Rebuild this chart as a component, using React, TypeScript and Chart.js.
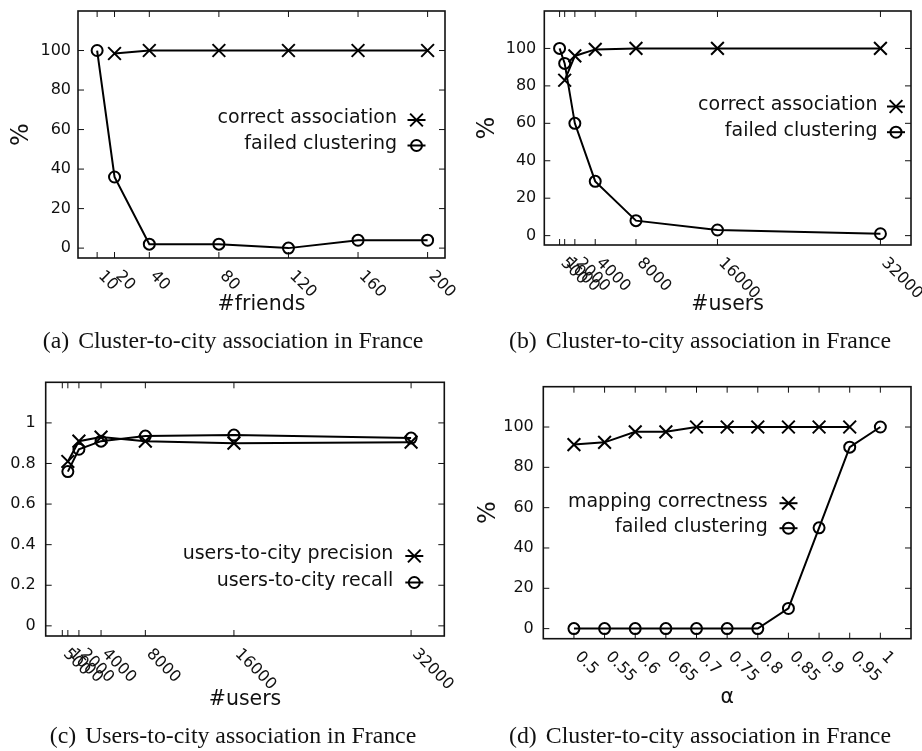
import { useEffect, useRef } from "react";
import { Chart, registerables } from "chart.js";

Chart.register(...registerables);

const PAGE_W = 922;
const PAGE_H = 751;
const SANS = '"DejaVu Sans", "Noto Sans", sans-serif';
const SERIF = '"Liberation Serif", "DejaVu Serif", serif';

// ---- (a) cluster-to-city vs #friends ----
const friendsX = [10, 20, 40, 80, 120, 160, 200];
const friendsTicks = [10, 20, 40, 80, 120, 160, 200];
const friendsCorrect = [null, 98.5, 100, 100, 100, 100, 100];
const friendsFailed = [100, 36, 2, 2, 0, 4, 4];

// ---- (b) cluster-to-city vs #users ----
const usersX = [500, 1000, 2000, 4000, 8000, 16000, 32000];
const usersTicks = [500, 1000, 2000, 4000, 8000, 16000, 32000];
const usersCorrect = [null, 83, 96, 99.5, 100, 100, 100];
const usersFailed = [100, 92, 60, 29, 8, 3, 1];

// ---- (c) users-to-city vs #users ----
const usersPrecision = [null, 0.81, 0.91, 0.93, 0.91, 0.9, 0.905];
const usersRecall = [null, 0.76, 0.87, 0.91, 0.935, 0.94, 0.925];

// ---- (d) cluster-to-city vs alpha ----
const alphaX = [0.5, 0.55, 0.6, 0.65, 0.7, 0.75, 0.8, 0.85, 0.9, 0.95, 1];
const alphaTickLabels = ["0.5", "0.55", "0.6", "0.65", "0.7", "0.75", "0.8", "0.85", "0.9", "0.95", "1"];
const alphaCorrect = [91.3, 92.4, 97.6, 97.6, 100, 100, 100, 100, 100, 100, null];
const alphaFailed = [0, 0, 0, 0, 0, 0, 0, 10, 50, 90, 100];

const percentTicks = [0, 20, 40, 60, 80, 100];
const percentTickLabels = ["0", "20", "40", "60", "80", "100"];
const ratioTicks = [0, 0.2, 0.4, 0.6, 0.8, 1];
const ratioTickLabels = ["0", "0.2", "0.4", "0.6", "0.8", "1"];

type Series = { label: string; values: (number | null)[]; marker: "cross" | "circle" };
type Panel = {
  id: string;
  box: { left: number; top: number; right: number; bottom: number };
  xRange: [number, number];
  yRange: [number, number];
  xs: number[];
  xTicks: number[];
  xTickLabels: string[];
  yTicks: number[];
  yTickLabels: string[];
  yLabelGap: number;
  xTitle: string;
  xTitleBaseline: number;
  yTitle: string | null;
  yTitleX: number;
  series: Series[];
  key: { textRight: number; markerX: number; rows: number[] };
  caption: { tag: string; text: string; cx: number; cy: number };
};

const panels: Panel[] = [
  {
    id: "a",
    box: { left: 78, top: 7, right: 445, bottom: 258 },
    xRange: [-1, 210],
    yRange: [-5, 120],
    xs: friendsX,
    xTicks: friendsTicks,
    xTickLabels: friendsTicks.map(String),
    yTicks: percentTicks,
    yTickLabels: percentTickLabels,
    yLabelGap: 7,
    xTitle: "#friends",
    xTitleBaseline: 310,
    yTitle: "%",
    yTitleX: 22,
    series: [
      { label: "correct association", values: friendsCorrect, marker: "cross" },
      { label: "failed clustering", values: friendsFailed, marker: "circle" },
    ],
    key: { textRight: 397, markerX: 416.5, rows: [118.5, 144] },
    caption: { tag: "(a)", text: "Cluster-to-city association in France", cx: 233, cy: 340 },
  },
  {
    id: "b",
    box: { left: 544.3, top: 7.3, right: 911, bottom: 245 },
    xRange: [-1000, 35000],
    yRange: [-5, 120],
    xs: usersX,
    xTicks: usersTicks,
    xTickLabels: usersTicks.map(String),
    yTicks: percentTicks,
    yTickLabels: percentTickLabels,
    yLabelGap: 8,
    xTitle: "#users",
    xTitleBaseline: 310,
    yTitle: "%",
    yTitleX: 488,
    series: [
      { label: "correct association", values: usersCorrect, marker: "cross" },
      { label: "failed clustering", values: usersFailed, marker: "circle" },
    ],
    key: { textRight: 877.5, markerX: 896, rows: [105, 130.7] },
    caption: { tag: "(b)", text: "Cluster-to-city association in France", cx: 700, cy: 340 },
  },
  {
    id: "c",
    box: { left: 45.7, top: 382.3, right: 444.3, bottom: 636 },
    xRange: [-1000, 35000],
    yRange: [-0.05, 1.2],
    xs: usersX,
    xTicks: usersTicks,
    xTickLabels: usersTicks.map(String),
    yTicks: ratioTicks,
    yTickLabels: ratioTickLabels,
    yLabelGap: 10,
    xTitle: "#users",
    xTitleBaseline: 705,
    yTitle: null,
    yTitleX: 0,
    series: [
      { label: "users-to-city precision", values: usersPrecision, marker: "cross" },
      { label: "users-to-city recall", values: usersRecall, marker: "circle" },
    ],
    key: { textRight: 393.3, markerX: 414.3, rows: [554.5, 581] },
    caption: { tag: "(c)", text: "Users-to-city association in France", cx: 233, cy: 735 },
  },
  {
    id: "d",
    box: { left: 543.3, top: 386.7, right: 921.3, bottom: 638.7 },
    xRange: [0.45, 1.05],
    yRange: [-5, 120],
    xs: alphaX,
    xTicks: alphaX,
    xTickLabels: alphaTickLabels,
    yTicks: percentTicks,
    yTickLabels: percentTickLabels,
    yLabelGap: 9.5,
    xTitle: "\u03b1",
    xTitleBaseline: 703,
    yTitle: "%",
    yTitleX: 489,
    series: [
      { label: "mapping correctness", values: alphaCorrect, marker: "cross" },
      { label: "failed clustering", values: alphaFailed, marker: "circle" },
    ],
    key: { textRight: 767.7, markerX: 788.5, rows: [501.7, 526.7] },
    caption: { tag: "(d)", text: "Cluster-to-city association in France", cx: 700, cy: 735 },
  },
];

const TICK_LEN = 6;
const CROSS_R = 9;
const CIRCLE_R = 5.5;

function drawMarker(ctx: CanvasRenderingContext2D, kind: "cross" | "circle", x: number, y: number) {
  ctx.beginPath();
  if (kind === "cross") {
    const d = CROSS_R * Math.SQRT1_2;
    ctx.moveTo(x - d, y - d);
    ctx.lineTo(x + d, y + d);
    ctx.moveTo(x + d, y - d);
    ctx.lineTo(x - d, y + d);
  } else {
    ctx.arc(x, y, CIRCLE_R, 0, Math.PI * 2);
  }
  ctx.stroke();
}

function framePlugin(p: Panel) {
  return {
    id: "frame-" + p.id,
    beforeDatasetsDraw(chart: any) {
      const { ctx, chartArea: a, scales } = chart;
      const xs = scales.x;
      const ys = scales.y;
      ctx.save();
      ctx.strokeStyle = "#111";
      ctx.lineWidth = 1;
      ctx.beginPath();
      for (const v of p.xTicks) {
        const px = xs.getPixelForValue(v);
        ctx.moveTo(px, a.top);
        ctx.lineTo(px, a.top + TICK_LEN);
        ctx.moveTo(px, a.bottom);
        ctx.lineTo(px, a.bottom - TICK_LEN);
      }
      for (const v of p.yTicks) {
        const py = ys.getPixelForValue(v);
        ctx.moveTo(a.left, py);
        ctx.lineTo(a.left + TICK_LEN, py);
        ctx.moveTo(a.right, py);
        ctx.lineTo(a.right - TICK_LEN, py);
      }
      ctx.stroke();
      ctx.lineWidth = 1.6;
      ctx.strokeRect(a.left, a.top, a.right - a.left, a.bottom - a.top);
      ctx.restore();
    },
    afterDraw(chart: any) {
      const { ctx, chartArea: a, scales } = chart;
      const xs = scales.x;
      const ys = scales.y;
      ctx.save();
      ctx.fillStyle = "#111";
      // y tick labels
      ctx.font = `16px ${SANS}`;
      ctx.textAlign = "right";
      ctx.textBaseline = "middle";
      p.yTicks.forEach((v, i) => {
        ctx.fillText(p.yTickLabels[i], a.left - p.yLabelGap, ys.getPixelForValue(v));
      });
      // x tick labels, rotated 45deg clockwise
      ctx.textAlign = "left";
      p.xTicks.forEach((v, i) => {
        const px = xs.getPixelForValue(v);
        ctx.save();
        ctx.translate(px + 3.5, a.bottom + 15.5);
        ctx.rotate(Math.PI / 4);
        ctx.fillText(p.xTickLabels[i], 0, 0);
        ctx.restore();
      });
      // axis titles
      ctx.font = `20.5px ${SANS}`;
      ctx.textAlign = "center";
      ctx.textBaseline = "alphabetic";
      ctx.fillText(p.xTitle, (a.left + a.right) / 2, p.xTitleBaseline);
      if (p.yTitle) {
        ctx.save();
        ctx.font = `24px ${SANS}`;
        ctx.translate(p.yTitleX, (a.top + a.bottom) / 2);
        ctx.rotate(-Math.PI / 2);
        ctx.textBaseline = "middle";
        ctx.fillText(p.yTitle, 0, 0);
        ctx.restore();
      }
      // key
      ctx.font = `19px ${SANS}`;
      ctx.textAlign = "right";
      ctx.textBaseline = "middle";
      ctx.strokeStyle = "#000";
      ctx.lineWidth = 2;
      p.series.forEach((s, i) => {
        const y = p.key.rows[i];
        ctx.fillText(s.label, p.key.textRight, y);
        const my = y + 1.5;
        ctx.beginPath();
        ctx.moveTo(p.key.markerX - 9, my);
        ctx.lineTo(p.key.markerX + 9, my);
        ctx.stroke();
        drawMarker(ctx, s.marker, p.key.markerX, my);
      });
      ctx.restore();
    },
  };
}

function PanelChart({ p }: { p: Panel }) {
  const ref = useRef<HTMLCanvasElement | null>(null);
  useEffect(() => {
    if (!ref.current) return;
    const datasets = p.series.map((s) => ({
      label: s.label,
      data: p.xs
        .map((x, i) => ({ x, y: s.values[i] }))
        .filter((pt) => pt.y !== null) as { x: number; y: number }[],
      showLine: true,
      borderColor: "#000",
      borderWidth: 2,
      pointStyle: s.marker === "cross" ? "crossRot" : "circle",
      pointRadius: s.marker === "cross" ? CROSS_R : CIRCLE_R,
      pointBorderWidth: 2,
      pointBorderColor: "#000",
      pointBackgroundColor: "rgba(0,0,0,0)",
      tension: 0,
      clip: 10,
    }));
    const chart = new Chart(ref.current, {
      type: "scatter",
      data: { datasets: datasets as any },
      options: {
        responsive: false,
        animation: false,
        devicePixelRatio: 1,
        events: [],
        layout: {
          padding: {
            left: p.box.left,
            top: p.box.top,
            right: PAGE_W - p.box.right,
            bottom: PAGE_H - p.box.bottom,
          },
        },
        plugins: { legend: { display: false }, tooltip: { enabled: false } },
        scales: {
          x: {
            type: "linear",
            display: false,
            min: p.xRange[0],
            max: p.xRange[1],
            afterBuildTicks: (scale: any) => {
              scale.ticks = p.xTicks.map((v) => ({ value: v }));
            },
          },
          y: {
            type: "linear",
            display: false,
            min: p.yRange[0],
            max: p.yRange[1],
            afterBuildTicks: (scale: any) => {
              scale.ticks = p.yTicks.map((v) => ({ value: v }));
            },
          },
        },
      } as any,
      plugins: [framePlugin(p)],
    });
    return () => chart.destroy();
  }, [p]);
  return (
    <canvas
      ref={ref}
      width={PAGE_W}
      height={PAGE_H}
      style={{ position: "absolute", left: 0, top: 0, width: PAGE_W, height: PAGE_H }}
    />
  );
}

export default function App() {
  return (
    <div
      style={{
        position: "fixed",
        left: 0,
        top: 0,
        width: PAGE_W,
        height: PAGE_H,
        background: "#fff",
        overflow: "hidden",
      }}
    >
      {panels.map((p) => (
        <PanelChart key={p.id} p={p} />
      ))}
      {panels.map((p) => (
        <div
          key={"cap-" + p.id}
          style={{
            position: "absolute",
            left: p.caption.cx - 230,
            width: 460,
            top: p.caption.cy - 12,
            height: 24,
            lineHeight: "24px",
            textAlign: "center",
            fontFamily: SERIF,
            fontSize: 23.8,
            color: "#111",
            whiteSpace: "nowrap",
          }}
        >
          <span style={{ marginRight: 9 }}>{p.caption.tag}</span>
          {p.caption.text}
        </div>
      ))}
    </div>
  );
}
